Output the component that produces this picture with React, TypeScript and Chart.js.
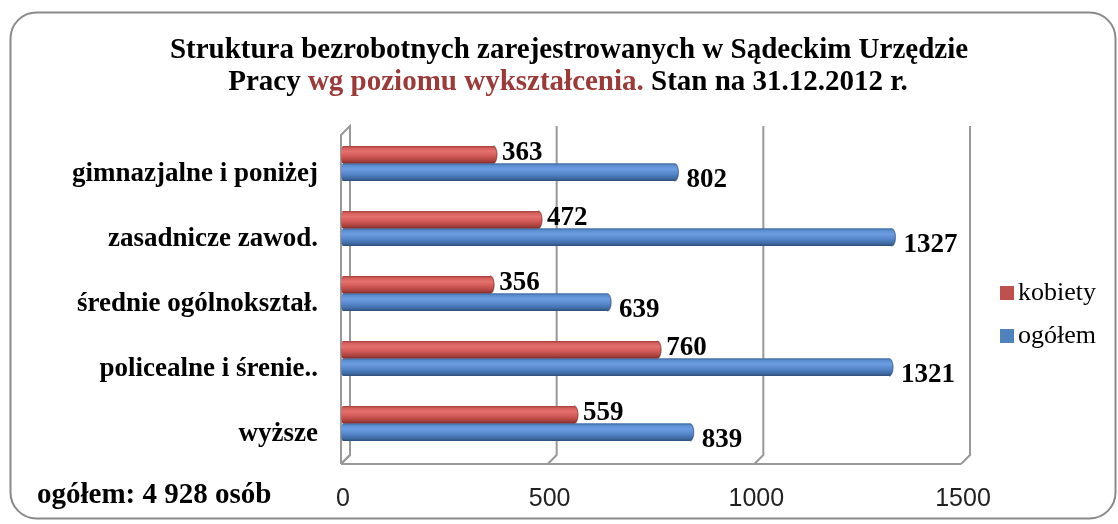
import React, { useEffect, useRef } from "react";
import { Chart, registerables } from "chart.js";

Chart.register(...registerables);

const categories = [
  "gimnazjalne i poniżej",
  "zasadnicze zawod.",
  "średnie ogólnokształ.",
  "policealne i śrenie..",
  "wyższe",
];
const kobiety = [363, 472, 356, 760, 559];
const ogolem = [802, 1327, 639, 1321, 839];
const xTickValues = [0, 500, 1000, 1500];
const seriesNames = ["kobiety", "ogółem"];
const seriesColors = ["#C0504D", "#4F81BD"];
const titleLine1 = "Struktura bezrobotnych zarejestrowanych w Sądeckim Urzędzie";
const titleLine2Parts = ["Pracy ", "wg poziomu wykształcenia.", " Stan na 31.12.2012 r."];
const titleLine2Colors = ["#000000", "#9B3A38", "#000000"];
const footnote = "ogółem: 4 928 osób";

const SERIF = "'Liberation Serif', 'Times New Roman', serif";
const SANS = "'Liberation Sans', Arial, sans-serif";

const gradStops: Record<string, [number, string][]> = {
  "#C0504D": [
    [0, "#9E3D3A"],
    [0.12, "#D45E5B"],
    [0.32, "#E4716E"],
    [0.6, "#CF5855"],
    [0.85, "#A9413E"],
    [1, "#7C2C2A"],
  ],
  "#4F81BD": [
    [0, "#3E68A0"],
    [0.12, "#5C8FD3"],
    [0.32, "#6C9DE0"],
    [0.6, "#5586CA"],
    [0.85, "#3F6AA3"],
    [1, "#2C4D78"],
  ],
};

const DX = 9;
const DY = 9;

const decorPlugin = {
  id: "decor",
  beforeDraw(chart: any) {
    const ctx = chart.ctx;
    ctx.save();
    ctx.fillStyle = "#ffffff";
    ctx.fillRect(0, 0, chart.width, chart.height);
    // rounded frame
    const x = 10.5, y = 12.5, w = 1105, h = 506, r = 26;
    ctx.beginPath();
    ctx.moveTo(x + r, y);
    ctx.lineTo(x + w - r, y);
    ctx.arcTo(x + w, y, x + w, y + r, r);
    ctx.lineTo(x + w, y + h - r);
    ctx.arcTo(x + w, y + h, x + w - r, y + h, r);
    ctx.lineTo(x + r, y + h);
    ctx.arcTo(x, y + h, x, y + h - r, r);
    ctx.lineTo(x, y + r);
    ctx.arcTo(x, y, x + r, y, r);
    ctx.closePath();
    ctx.strokeStyle = "#8A8A8A";
    ctx.lineWidth = 2;
    ctx.stroke();

    // title
    ctx.font = `bold 29px ${SERIF}`;
    ctx.textBaseline = "middle";
    ctx.textAlign = "center";
    ctx.fillStyle = "#000";
    ctx.fillText(titleLine1, 569, 51);
    const widths = titleLine2Parts.map((p) => ctx.measureText(p).width);
    const total = widths.reduce((a, b) => a + b, 0);
    let cx = 568 - total / 2;
    ctx.textAlign = "left";
    titleLine2Parts.forEach((p, i) => {
      ctx.fillStyle = titleLine2Colors[i];
      ctx.fillText(p, cx, 83);
      cx += widths[i];
    });

    // footnote
    ctx.font = `bold 29px ${SERIF}`;
    ctx.fillStyle = "#000";
    ctx.textAlign = "left";
    ctx.fillText(footnote, 37, 496);
    ctx.restore();
  },
  beforeDatasetsDraw(chart: any) {
    const ctx = chart.ctx;
    const xs = chart.scales.x;
    const area = chart.chartArea;
    const floorFront = area.bottom + 8;
    const floorBack = floorFront - DY;
    const topFront = area.top + 4;
    const topBack = topFront - DY;
    ctx.save();
    ctx.strokeStyle = "#999999";
    ctx.lineWidth = 2;
    const x0 = xs.getPixelForValue(0) - 2;
    ctx.beginPath();
    ctx.moveTo(x0, floorFront);
    ctx.lineTo(x0, topFront);
    ctx.lineTo(x0 + DX, topBack);
    ctx.lineTo(x0 + DX, floorBack);
    ctx.lineTo(x0, floorFront);
    ctx.stroke();
    xTickValues.forEach((v) => {
      const xf = xs.getPixelForValue(v) - 2;
      ctx.beginPath();
      ctx.moveTo(xf + DX, topBack);
      ctx.lineTo(xf + DX, floorBack);
      ctx.lineTo(xf, floorFront);
      ctx.stroke();
    });
    const xEnd = xs.getPixelForValue(xTickValues[xTickValues.length - 1]) - 2;
    ctx.beginPath();
    ctx.moveTo(x0, floorFront);
    ctx.lineTo(xEnd, floorFront);
    ctx.stroke();
    ctx.restore();
  },
  afterDatasetsDraw(chart: any) {
    const ctx = chart.ctx;
    const ys = chart.scales.y;
    ctx.save();
    chart.data.datasets.forEach((ds: any, di: number) => {
      const meta = chart.getDatasetMeta(di);
      const base = seriesColors[di];
      meta.data.forEach((el: any, i: number) => {
        const { x, y, base: b, height } = el.getProps(["x", "y", "base", "height"], true);
        const top = y - height / 2;
        const g = ctx.createLinearGradient(0, top, 0, top + height);
        gradStops[base].forEach(([o, c]) => g.addColorStop(o, c));
        ctx.fillStyle = g;
        ctx.beginPath();
        ctx.moveTo(b, top);
        ctx.lineTo(x, top);
        ctx.ellipse(x, y, 4, height / 2, 0, -Math.PI / 2, Math.PI / 2);
        ctx.lineTo(b, top + height);
        ctx.ellipse(b, y, 2, height / 2, 0, Math.PI / 2, (3 * Math.PI) / 2);
        ctx.closePath();
        ctx.fill();
        ctx.beginPath();
        ctx.ellipse(x, y, 4, height / 2, 0, -Math.PI / 2, Math.PI / 2);
        ctx.strokeStyle = di === 0 ? "rgba(110,35,33,0.55)" : "rgba(35,65,110,0.55)";
        ctx.lineWidth = 1.2;
        ctx.stroke();

        ctx.font = `bold 27px ${SERIF}`;
        ctx.fillStyle = "#000";
        ctx.textAlign = "left";
        ctx.textBaseline = "middle";
        const val = ds.data[i];
        if (di === 0) ctx.fillText(String(val), x + 9, y - 2);
        else ctx.fillText(String(val), x + 12, y + 8);
      });
    });
    ctx.font = `bold 27px ${SERIF}`;
    ctx.fillStyle = "#000";
    ctx.textAlign = "right";
    ctx.textBaseline = "middle";
    categories.forEach((c, i) => {
      ctx.fillText(c, 318, ys.getPixelForValue(i) + 11);
    });
    ctx.restore();
  },
  afterDraw(chart: any) {
    const ctx = chart.ctx;
    ctx.save();
    ctx.font = `26px ${SERIF}`;
    ctx.textAlign = "left";
    ctx.textBaseline = "middle";
    const ly = [293, 336];
    seriesNames.forEach((n, i) => {
      ctx.fillStyle = seriesColors[i];
      ctx.fillRect(1000, ly[i] - 7, 14, 14);
      ctx.fillStyle = "#000";
      ctx.fillText(n, 1018, ly[i]);
    });
    ctx.restore();
  },
};

export default function App() {
  const ref = useRef<HTMLCanvasElement | null>(null);
  useEffect(() => {
    if (!ref.current) return;
    const chart = new Chart(ref.current, {
      type: "bar",
      data: {
        labels: categories,
        datasets: [
          { label: seriesNames[0], data: kobiety, backgroundColor: seriesColors[0], borderWidth: 0, barPercentage: 1, categoryPercentage: 0.54 },
          { label: seriesNames[1], data: ogolem, backgroundColor: seriesColors[1], borderWidth: 0, barPercentage: 1, categoryPercentage: 0.54 },
        ],
      },
      options: {
        indexAxis: "y",
        responsive: false,
        animation: false,
        events: [],
        layout: { padding: { left: 343, right: 155, top: 131, bottom: 0 } },
        plugins: { legend: { display: false }, tooltip: { enabled: false }, title: { display: false } },
        scales: {
          y: { type: "category", display: false, offset: true },
          x: {
            type: "linear",
            min: 0,
            max: 1500,
            ticks: {
              stepSize: 500,
              font: { family: SANS, size: 25 },
              color: "#222",
              padding: 28,
              callback: (v: any) => String(v),
            },
            grid: { display: false, drawTicks: false },
            border: { display: false },
            afterFit: (s: any) => {
              s.height = 68;
            },
          },
        },
      },
      plugins: [decorPlugin],
    });
    return () => chart.destroy();
  }, []);
  return (
    <div style={{ position: "fixed", left: 0, top: 0, width: 1118, height: 524, background: "#fff" }}>
      <canvas ref={ref} width={1118} height={524} style={{ display: "block", width: 1118, height: 524 }} />
    </div>
  );
}
